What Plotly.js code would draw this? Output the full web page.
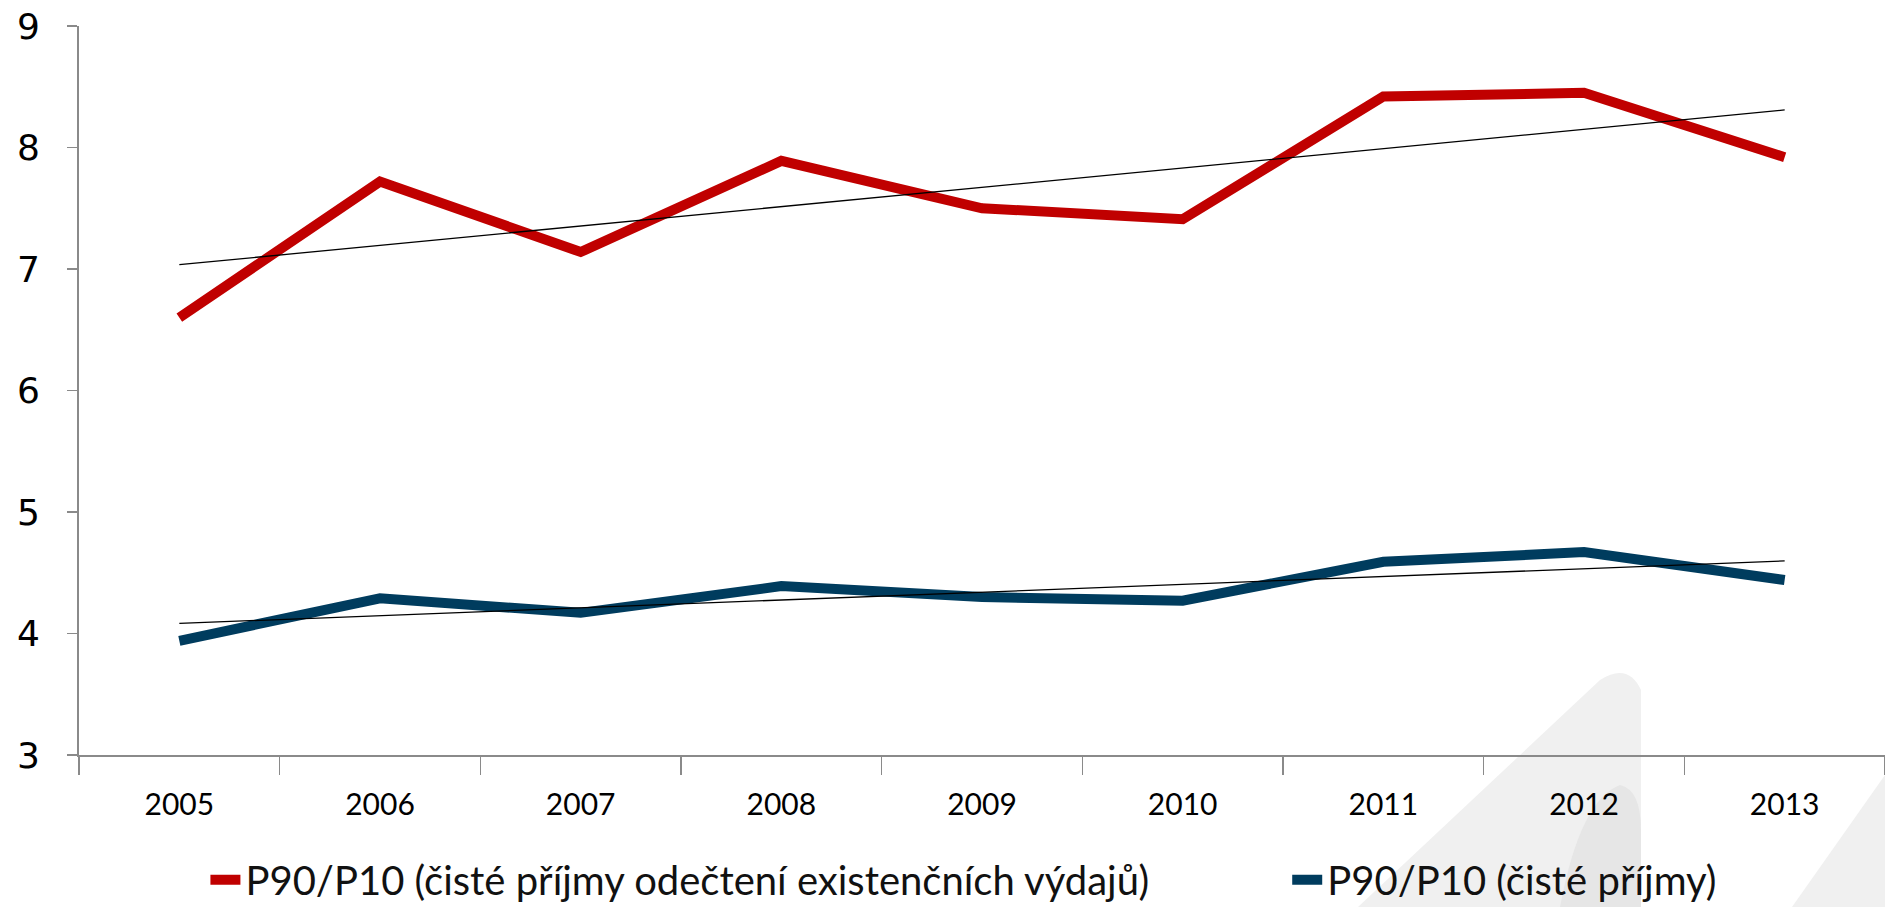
<!DOCTYPE html>
<html>
<head>
<meta charset="utf-8">
<script src="https://cdn.plot.ly/plotly-3.0.1.min.js"></script>
<style>
  html, body { margin: 0; padding: 0; background: #ffffff; }
  #wrap { position: relative; width: 1885px; height: 907px; overflow: hidden; }
  #bg { position: absolute; left: 0; top: 0; }
  #chart { position: absolute; left: 0; top: 0; width: 1885px; height: 907px; }
</style>
</head>
<body>
<div id="wrap">
  <svg id="bg" width="1885" height="907" xmlns="http://www.w3.org/2000/svg">
    <path d="M1358,907 L1600,680 Q1628,662 1641,690 L1641,907 Z" fill="#f0f0f0"/>
    <path d="M1560,907 Q1580,800 1620,785 Q1641,790 1641,830 L1641,907 Z" fill="#e6e6e6"/>
    <path d="M1792,907 L1885,775 L1885,907 Z" fill="#f0f0f0"/>
  </svg>
  <div id="chart"></div>
</div>
<script>
const years = ['2005','2006','2007','2008','2009','2010','2011','2012','2013'];
const seriesNetMinusExpenses = [6.60, 7.72, 7.14, 7.89, 7.50, 7.41, 8.42, 8.45, 7.92];
const seriesNet = [3.94, 4.29, 4.17, 4.39, 4.30, 4.27, 4.59, 4.67, 4.44];
const nameNetMinusExpenses = 'P90/P10 (čisté příjmy odečtení existenčních výdajů)';
const nameNet = 'P90/P10 (čisté příjmy)';

function linearTrend(vals) {
  const n = vals.length;
  let sx = 0, sy = 0, sxy = 0, sxx = 0;
  for (let i = 0; i < n; i++) { sx += i; sy += vals[i]; sxy += i * vals[i]; sxx += i * i; }
  const b = (n * sxy - sx * sy) / (n * sxx - sx * sx);
  const a = (sy - b * sx) / n;
  return vals.map((_, i) => a + b * i);
}

const traces = [
  { x: years, y: seriesNetMinusExpenses, type: 'scatter', mode: 'lines', name: nameNetMinusExpenses,
    line: { color: '#C00000', width: 10 }, legend: 'legend' },
  { x: years, y: seriesNet, type: 'scatter', mode: 'lines', name: nameNet,
    line: { color: '#003C5E', width: 10 }, legend: 'legend2' },
  { x: years, y: linearTrend(seriesNetMinusExpenses), type: 'scatter', mode: 'lines', showlegend: false,
    line: { color: '#000000', width: 1.3 }, hoverinfo: 'skip' },
  { x: years, y: linearTrend(seriesNet), type: 'scatter', mode: 'lines', showlegend: false,
    line: { color: '#000000', width: 1.3 }, hoverinfo: 'skip' }
];

const legendFont = { family: 'Lato, "Open Sans", sans-serif', size: 40, color: '#111111' };

const layout = {
  width: 1885, height: 907,
  paper_bgcolor: 'rgba(0,0,0,0)', plot_bgcolor: 'rgba(0,0,0,0)',
  margin: { l: 79, r: 0, t: 26, b: 152, autoexpand: false },
  showlegend: true,
  xaxis: {
    type: 'category', range: [-0.5, 8.5], tickson: 'boundaries',
    ticks: 'outside', ticklen: 18, tickcolor: '#8a8a8a', tickwidth: 1.5,
    showline: true, linecolor: '#8a8a8a', linewidth: 2, showgrid: false, zeroline: false,
    tickfont: { family: 'Lato, "Open Sans", sans-serif', size: 30, color: '#000000' },
    ticklabelstandoff: 22
  },
  yaxis: {
    range: [3, 9], dtick: 1, tick0: 3,
    ticks: 'outside', ticklen: 10, tickcolor: '#8a8a8a', tickwidth: 1.5,
    showline: true, linecolor: '#8a8a8a', linewidth: 2, showgrid: false, zeroline: false,
    tickfont: { family: '"DejaVu Sans", Verdana, sans-serif', size: 36, color: '#000000' },
    ticklabelstandoff: 20
  },
  legend: {
    orientation: 'h', x: 0.07, xanchor: 'left', y: -0.171, yanchor: 'middle',
    font: legendFont, bgcolor: 'rgba(0,0,0,0)', itemwidth: 30
  },
  legend2: {
    orientation: 'h', x: 0.669, xanchor: 'left', y: -0.171, yanchor: 'middle',
    font: legendFont, bgcolor: 'rgba(0,0,0,0)', itemwidth: 30
  }
};

Plotly.newPlot('chart', traces, layout, { displayModeBar: false, staticPlot: true });
</script>
</body>
</html>
